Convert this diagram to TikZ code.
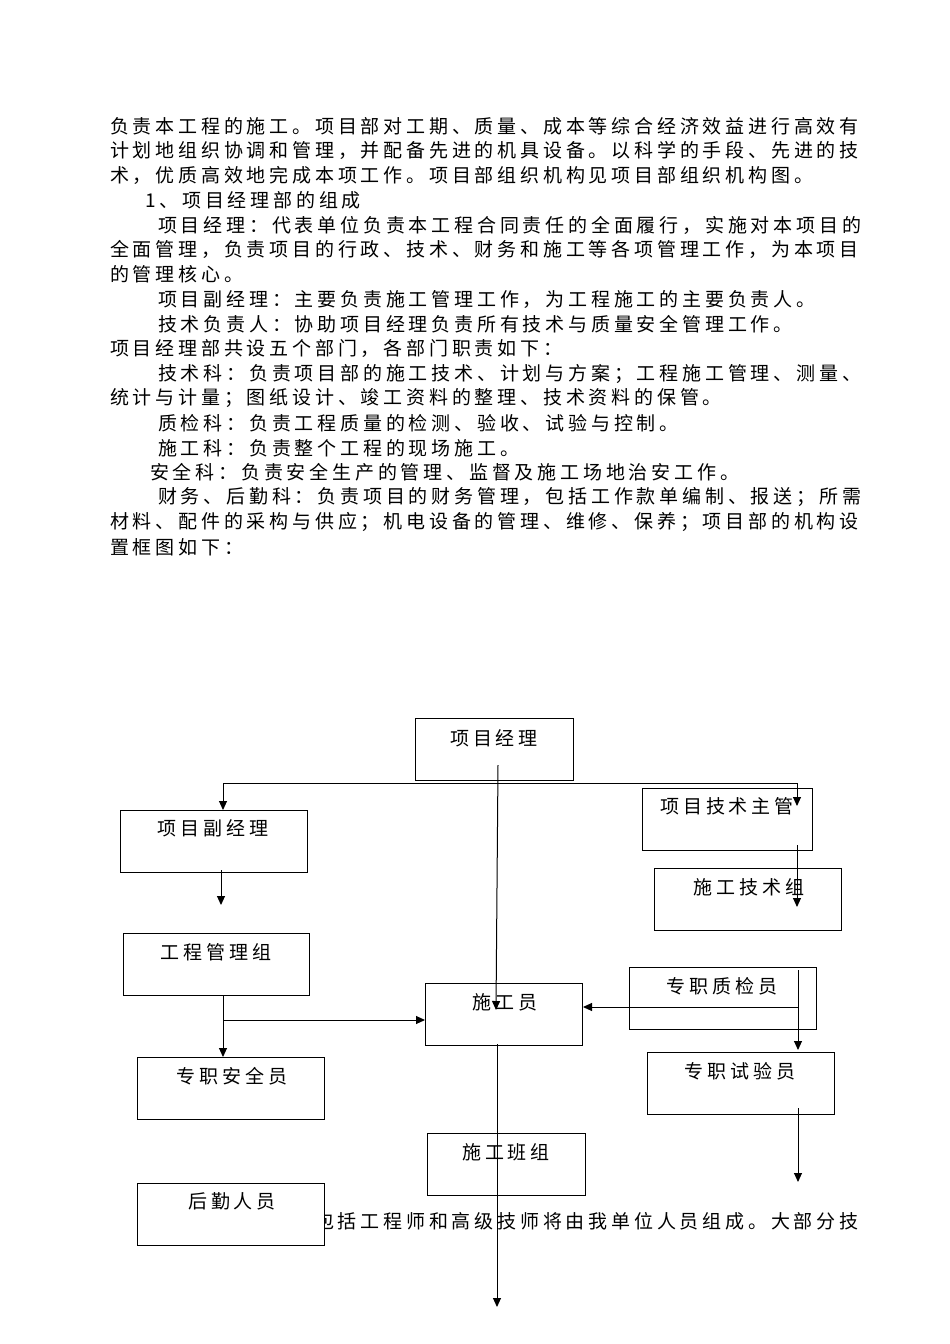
\documentclass[tikz,border=0pt]{standalone}
\usepackage{fontspec}
\setmainfont{Noto Sans CJK SC}[LetterSpace=20]
\usetikzlibrary{arrows.meta}
\begin{document}
\begin{tikzpicture}[x=1pt,y=-1pt,
  txt/.style={anchor=west,inner sep=0,font=\fontsize{19}{19}\selectfont},
  box/.style={draw,line width=1pt,anchor=north west,minimum width=#1,minimum height=62,inner sep=0},
  lbl/.style={inner sep=0,font=\fontsize{19}{19}\selectfont},
  conn/.style={line width=1pt},
  arr/.style={line width=1pt,-{Triangle[length=9pt,width=8pt]}}]
\useasboundingbox (0,0) rectangle (950,1344);
\foreach \l/\x/\t in {
 1/110/负责本工程的施工。项目部对工期、质量、成本等综合经济效益进行高效有,
 2/110/计划地组织协调和管理，并配备先进的机具设备。以科学的手段、先进的技,
 3/110/术，优质高效地完成本项工作。项目部组织机构见项目部组织机构图。,
 4/145/1、项目经理部的组成,
 5/158/项目经理：代表单位负责本工程合同责任的全面履行，实施对本项目的,
 6/110/全面管理，负责项目的行政、技术、财务和施工等各项管理工作，为本项目,
 7/110/的管理核心。,
 8/158/项目副经理：主要负责施工管理工作，为工程施工的主要负责人。,
 9/158/技术负责人：协助项目经理负责所有技术与质量安全管理工作。,
 10/110/项目经理部共设五个部门，各部门职责如下：,
 11/158/技术科：负责项目部的施工技术、计划与方案；工程施工管理、测量、,
 12/110/统计与计量；图纸设计、竣工资料的整理、技术资料的保管。,
 13/158/质检科：负责工程质量的检测、验收、试验与控制。,
 14/158/施工科：负责整个工程的现场施工。,
 15/150/安全科：负责安全生产的管理、监督及施工场地治安工作。,
 16/158/财务、后勤科：负责项目的财务管理，包括工作款单编制、报送；所需,
 17/110/材料、配件的采构与供应；机电设备的管理、维修、保养；项目部的机构设,
 18/110/置框图如下：}
 {\node[txt] (t\l) at (\x,{126+(\l-1)*24.76}) {\t};}
\node[txt] (tb) at (315,1221) {包括工程师和高级技师将由我单位人员组成。大部分技};
% boxes
\node[box=158,fill=white] (pm) at (415,718) {};
\node[box=187,fill=white] (dpm) at (120,810) {};
\node[box=170,fill=white] (tech) at (642,788) {};
\node[box=187,fill=white] (tg) at (654,868) {};
\node[box=186,fill=white] (eng) at (123,933) {};
\node[box=157,fill=white] (sg) at (425,983) {};
\node[box=187,fill=white] (qc) at (629,967) {};
\node[box=187,fill=white] (safe) at (137,1057) {};
\node[box=187,fill=white] (test) at (647,1052) {};
\node[box=158,fill=white] (team) at (427,1133) {};
\node[box=187,fill=white] (log) at (137,1183) {};
\node[lbl] at (494,738) {项目经理};
\node[lbl] at (213,828) {项目副经理};
\node[lbl] at (727,806) {项目技术主管};
\node[lbl] at (749,887) {施工技术组};
\node[lbl] at (216,952) {工程管理组};
\node[lbl] at (505,1002) {施工员};
\node[lbl] at (722,986) {专职质检员};
\node[lbl] at (232,1076) {专职安全员};
\node[lbl] at (740,1071) {专职试验员};
\node[lbl] at (506,1152) {施工班组};
\node[lbl] at (232,1201) {后勤人员};
% connectors
\coordinate (h1) at (223,783); \coordinate (h2) at (797,783);
\draw[conn] (h1) -- (h2);
\draw[arr] (h1) -- (dpm.north west -| h1);
\draw[arr] (h2) -- (797,806);
\draw[arr] (498,765) -- (496,1010);
\draw[arr] (221,870) -- (221,905);
\draw[arr] (797,845) -- (797,907);
\draw[arr] (223,995) -- (safe.north west -| 223,0);
\draw[arr] (223,1020) -- (sg.west |- 0,1020);
\draw[conn] (798,1007) -- (798,970);
\draw[arr] (798,1007) -- (sg.east |- 0,1007);
\draw[arr] (798,1007) -- (798,1050);
\draw[arr] (798,1108) -- (798,1182);
\draw[arr] (497,1044) -- (497,1307);
\end{tikzpicture}
\end{document}
